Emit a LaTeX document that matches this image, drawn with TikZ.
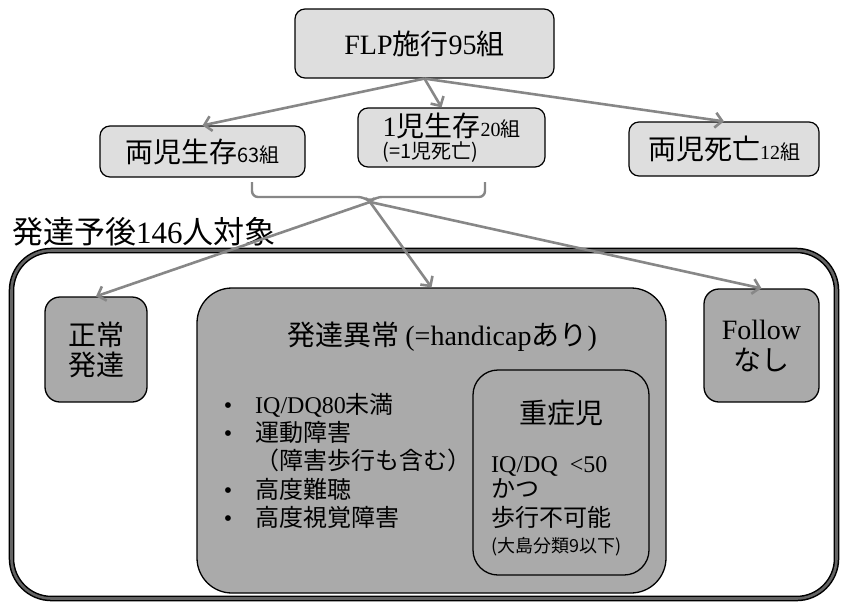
\documentclass[tikz,border=0pt]{standalone}
\usepackage{fontspec}
\setmainfont{Noto Sans CJK JP}
\newfontfamily\latf{Liberation Serif}
\newcommand\lat[1]{{\latf #1}}
\newcommand\fsz[2]{\fontsize{#1}{#2}\selectfont}
\usetikzlibrary{arrows.meta}
\definecolor{lightbox}{RGB}{222,222,222}
\definecolor{midbox}{RGB}{170,170,170}
\definecolor{arrowgray}{RGB}{135,135,135}
\definecolor{rimgray}{RGB}{100,100,100}
\tikzset{
  topbox/.style={draw=black, line width=1.2pt, fill=lightbox, rounded corners=10pt, inner sep=0pt, font=\fsz{28}{30}},
  innerbox/.style={draw=black, line width=1.3pt, fill=midbox, rounded corners=15pt, inner sep=0pt},
  txt/.style={inner sep=0pt},
  linetxt/.style={inner sep=0pt, anchor=base west, font=\fsz{24}{24}},
  bul/.style={inner sep=0pt, anchor=base, font=\fsz{24}{24}\latf},
  conn/.style={draw=arrowgray, line width=2.6pt, -{Straight Barb[length=7pt,width=15pt]}},
  bracestyle/.style={draw=arrowgray, line width=2.4pt, rounded corners=6pt}
}
\begin{document}
\begin{tikzpicture}[x=1pt, y=-1pt]
\useasboundingbox (0,0) rectangle (850,605);

% top row
\node[topbox, minimum width=259pt, minimum height=69pt] (flp) at (424.5,43.5) {\lat{FLP}施行\lat{95}組};
\node[topbox, minimum width=205pt, minimum height=51pt] (ryo) at (202.5,151.5) {両児生存{\fsz{20}{20}63組}};
\node[topbox, minimum width=187pt, minimum height=59pt, align=left, font=\fsz{28}{22}] (one) at (451.5,137.5) {\lat{1}児生存{\fsz{20}{22}\lat{20}組}\\{\fsz{20}{22}(=1児死亡)}};
\node[topbox, minimum width=190pt, minimum height=54pt] (shi) at (724,149) {両児死亡{\fsz{20}{20}\lat{12}組}};

% title
\node[txt, anchor=west, font=\fsz{31}{31}] (title) at (12,232) {発達予後\lat{146}人対象};

% outer frame
\node[draw=black, double=rimgray, double distance=2.6pt, line width=1.5pt, fill=white, rounded corners=40pt, minimum width=825pt, minimum height=348pt] (outer) at (424,424.5) {};

% normal development
\node[innerbox, minimum width=102pt, minimum height=105pt, align=center, font=\fsz{28}{30}] (zs) at (96,349.5) {正常\\発達};

% abnormal development
\node[innerbox, rounded corners=35pt, minimum width=469pt, minimum height=305pt] (hd) at (431.5,440.5) {};
\node[txt, font=\fsz{28}{28}] (hdt) at (442,337) {発達異常 \lat{(=handicap}あり\lat{)}};

\node[bul] (d1) at (228,413) {•};
\node[bul] (d2) at (228,441) {•};
\node[bul] (d4) at (228,498) {•};
\node[bul] (d5) at (228,526) {•};
\node[linetxt] (b1) at (255,413) {\lat{IQ/DQ80}未満};
\node[linetxt] (b2) at (255,441) {運動障害};
\node[linetxt] (b3) at (255,469.5) {（障害歩行も含む）};
\node[linetxt] (b4) at (255,498) {高度難聴};
\node[linetxt] (b5) at (255,526) {高度視覚障害};

% severe
\node[innerbox, rounded corners=25pt, minimum width=176pt, minimum height=205pt] (jus) at (561,472.5) {};
\node[txt, font=\fsz{28}{28}] (just) at (561,413) {重症児};
\node[linetxt] (j1) at (491,472) {\lat{IQ/DQ\ \ <50}};
\node[linetxt] (j2) at (491,497) {かつ};
\node[linetxt] (j3) at (491,526) {歩行不可能};
\node[linetxt, font=\fsz{18}{18}] (j4) at (491,552) {(大島分類9以下)};

% follow none
\node[innerbox, minimum width=115pt, minimum height=113pt, align=center, font=\fsz{28}{31}] (fol) at (761.5,345.5) {\lat{Follow}\\なし};

% brace
\coordinate (cusp) at (370,202);
\draw[bracestyle] (252,182) -- (252,197) -- (364,197) -- (cusp) -- (376,197) -- (485,197) -- (485,182);

% connectors
\draw[conn] (flp.south) -- (ryo.north);
\draw[conn] (flp.south) -- ([xshift=-10pt]one.north);
\draw[conn] (flp.south) -- (shi.north);
\draw[conn] (cusp) -- (zs.north);
\draw[conn] (cusp) -- (hd.north);
\draw[conn] (cusp) -- (fol.north);
\end{tikzpicture}
\end{document}
